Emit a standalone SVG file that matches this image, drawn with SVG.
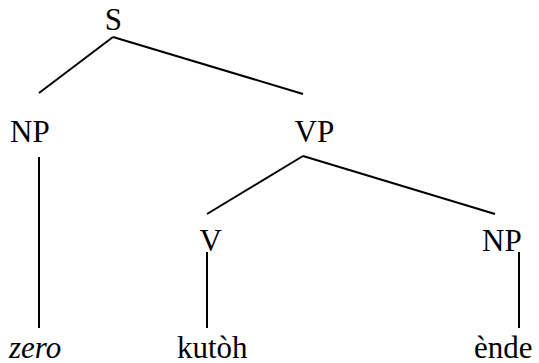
<svg xmlns="http://www.w3.org/2000/svg" width="539" height="363" viewBox="0 0 539 363">
<style>
text{font-family:"Liberation Serif","Times New Roman",serif;font-size:31px;fill:#000}
.it{font-style:italic}
.edges line{stroke:#000;stroke-width:2;stroke-linecap:butt}
</style>
<rect width="539" height="363" fill="#fff"/>
<g class="edges" id="connectors">
<line x1="113" y1="37" x2="39" y2="93"/>
<line x1="113" y1="37" x2="303" y2="94"/>
<line x1="39" y1="157" x2="39" y2="328"/>
<line x1="303" y1="156" x2="207" y2="214"/>
<line x1="303" y1="156" x2="495" y2="214"/>
<line x1="207" y1="252" x2="207" y2="328"/>
<line x1="519" y1="252" x2="519" y2="328"/>
</g>
<g id="S"><text x="104.7" y="30">S</text></g>
<g id="NP1"><text x="10" y="142">NP</text></g>
<g id="VP"><text x="294.5" y="142">VP</text></g>
<g id="V"><text x="199.5" y="251">V</text></g>
<g id="NP2"><text x="482" y="251">NP</text></g>
<g id="zero"><text class="it" x="9" y="358">zero</text></g>
<g id="kutoh"><text x="177" y="358">kutòh</text></g>
<g id="ende"><text x="474" y="358">ènde</text></g>
</svg>
